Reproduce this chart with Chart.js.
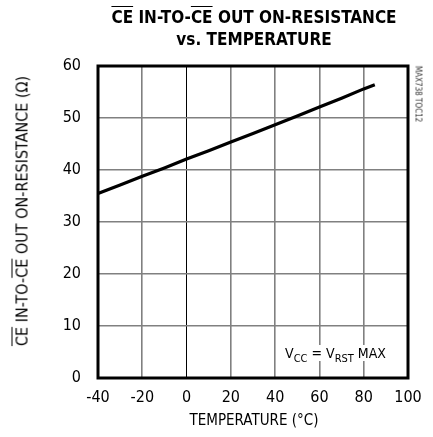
<!DOCTYPE html>
<html>
<head>
<meta charset="utf-8">
<script src="https://cdn.jsdelivr.net/npm/chart.js@4.4.0/dist/chart.umd.min.js"></script>
<style>
  html, body { margin: 0; padding: 0; background: #fff; }
  #wrap { position: relative; width: 433px; height: 437px; overflow: hidden; }
  canvas { position: absolute; left: 0; top: 0; }
  .txt { position: absolute; white-space: nowrap; color: #000;
    font-family: "Liberation Sans Narrow", "DejaVu Sans Condensed", "Roboto", sans-serif; }
  .ov { text-decoration: overline; }
  #title { left: 0; width: 508px; top: 6px; text-align: center; font-weight: bold;
    font-size: 17px; line-height: 22px; }
  #xtitle { left: 0; width: 508px; top: 411px; text-align: center; font-size: 15px; }
  #ytitle { left: 22px; top: 211px; font-size: 16px;
    transform: translate(-50%, -50%) rotate(-90deg); }
  #mark { left: 418px; top: 94px; font-size: 8px; color: #333;
    transform: translate(-50%, -50%) rotate(90deg); }
  #note { left: 282px; top: 345px; font-size: 14px; background: #fff; padding: 0 3px; }
  #note sub { font-size: 11px; vertical-align: -4px; line-height: 0; }
</style>
</head>
<body>
<div id="wrap">
  <canvas id="chart" width="433" height="437"></canvas>
  <div class="txt" id="title"><span class="ov">CE</span> IN-TO-<span class="ov">CE</span> OUT ON-RESISTANCE<br>vs. TEMPERATURE</div>
  <div class="txt" id="ytitle"><span class="ov">CE</span> IN-TO-<span class="ov">CE</span> OUT ON-RESISTANCE (Ω)</div>
  <div class="txt" id="xtitle">TEMPERATURE (°C)</div>
  <div class="txt" id="mark">MAX738 TOC12</div>
  <div class="txt" id="note">V<sub>CC</sub> = V<sub>RST</sub> MAX</div>
</div>
<script>
// temperature (°C) and CE-to-CE on-resistance (ohm)
const temps = [-40, -30, -20, -10, 0, 10, 20, 30, 40, 50, 60, 70, 80, 85];
const resistance = [35.5, 37.1, 38.8, 40.4, 42.1, 43.7, 45.4, 47.0, 48.7, 50.4, 52.1, 53.8, 55.6, 56.4];
const xTicks = [-40, -20, 0, 20, 40, 60, 80, 100];
const yTicks = [0, 10, 20, 30, 40, 50, 60];

const tickFont = { family: '"Liberation Sans Narrow", "DejaVu Sans Condensed", Roboto, sans-serif', size: 16 };

// draws the thick frame round the plot
const frame = {
  id: "frame",
  afterDatasetsDraw(chart) {
    const a = chart.chartArea;
    const ctx = chart.ctx;
    ctx.save();
    ctx.strokeStyle = "#000";
    ctx.lineWidth = 3;
    ctx.strokeRect(a.left, a.top, a.right - a.left, a.bottom - a.top);
    ctx.restore();
  },
};

const gridWidth = (c) => (c.tick && c.tick.value === 0 ? 1 : 1.6);

new Chart(document.getElementById("chart"), {
  type: "line",
  data: {
    datasets: [
      {
        data: temps.map((t, i) => ({ x: t, y: resistance[i] })),
        borderColor: "#000",
        borderWidth: 3.2,
        pointRadius: 0,
        tension: 0,
        fill: false,
      },
    ],
  },
  options: {
    responsive: false,
    animation: false,
    layout: { padding: { top: 66, right: 25, left: 0, bottom: 0 } },
    plugins: { legend: { display: false }, tooltip: { enabled: false } },
    scales: {
      x: {
        type: "linear",
        min: -40,
        max: 100,
        afterBuildTicks: (s) => { s.ticks = xTicks.map((v) => ({ value: v })); },
        afterFit: (s) => { s.height = 59; },
        grid: { color: (c) => (c.tick && c.tick.value === 0 ? "#000" : "#808080"), lineWidth: gridWidth, drawTicks: false },
        border: { display: false },
        ticks: { color: "#000", font: tickFont, padding: 10, maxRotation: 0 },
      },
      y: {
        min: 0,
        max: 60,
        afterBuildTicks: (s) => { s.ticks = yTicks.map((v) => ({ value: v })); },
        afterFit: (s) => { s.width = 98; },
        grid: { color: "#808080", lineWidth: 1.6, drawTicks: false },
        border: { display: false },
        ticks: { color: "#000", font: tickFont, padding: 17 },
      },
    },
  },
  plugins: [frame],
});
</script>
</body>
</html>
